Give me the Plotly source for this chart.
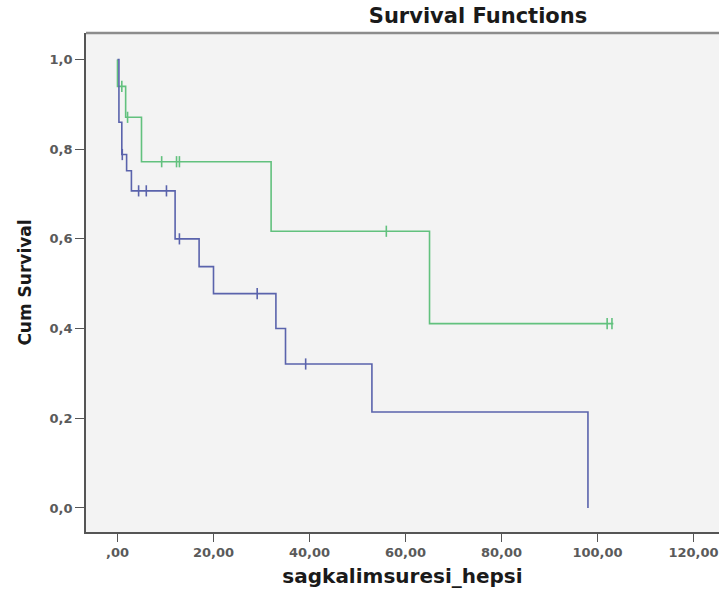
import plotly.graph_objects as go

# Kaplan-Meier step data (time, cumulative survival) for the two groups
green_time = [0, 0, 1.7, 5, 32, 65, 103.3]
green_surv = [1.0, 0.94, 0.871, 0.772, 0.617, 0.411, 0.411]
green_censor = [0.9, 2.1, 9.2, 12.3, 12.9, 56, 102, 103]

blue_time = [0, 0.3, 0.9, 1.9, 2.9, 12, 17, 20, 33, 35, 53, 98]
blue_surv = [1.0, 0.86, 0.788, 0.752, 0.707, 0.60, 0.538, 0.478, 0.40, 0.321, 0.214, 0.0]
blue_censor = [1.0, 4.4, 6.0, 10.2, 12.9, 29.1, 39.2]

x_ticks = [0, 20, 40, 60, 80, 100, 120]
x_labels = [",00", "20,00", "40,00", "60,00", "80,00", "100,00", "120,00"]
y_ticks = [0, 0.2, 0.4, 0.6, 0.8, 1.0]
y_labels = ["0,0", "0,2", "0,4", "0,6", "0,8", "1,0"]

GREEN = "#62C17E"
BLUE = "#5A63AC"


def step_value(times, surv, t):
    """Survival level of a right-continuous step curve at time t."""
    v = surv[0]
    for ti, si in zip(times, surv):
        if ti <= t:
            v = si
    return v


fig = go.Figure()

for times, surv, cens, color in [
    (green_time, green_surv, green_censor, GREEN),
    (blue_time, blue_surv, blue_censor, BLUE),
]:
    fig.add_trace(go.Scatter(
        x=times, y=surv, mode="lines", line_shape="hv",
        line=dict(color=color, width=1.6), hoverinfo="skip", showlegend=False,
    ))
    fig.add_trace(go.Scatter(
        x=cens, y=[step_value(times, surv, t) for t in cens], mode="markers",
        marker=dict(symbol="line-ns", size=8, line=dict(color=color, width=1.6)),
        hoverinfo="skip", showlegend=False,
    ))

tick_font = dict(family="DejaVu Sans", size=13, color="#5a5a5a", weight="bold")

fig.update_layout(
    width=719, height=590,
    margin=dict(l=86, r=0, t=33, b=58),
    paper_bgcolor="white",
    plot_bgcolor="#F3F3F3",
    title=dict(
        text="Survival Functions",
        x=478 / 719, xanchor="center", xref="container",
        y=1 - 16 / 590, yanchor="middle", yref="container",
        font=dict(family="DejaVu Sans", size=21, color="#1a1a1a", weight="bold"),
    ),
    xaxis=dict(
        range=[-6.56, 125.3], tickvals=x_ticks, ticktext=x_labels,
        showgrid=False, zeroline=False, showline=True, linecolor="#555555", linewidth=1.6,
        ticks="outside", ticklen=8, tickwidth=1.4, tickcolor="#555555",
        tickfont=tick_font,
        title=dict(text="sagkalimsuresi_hepsi", standoff=10,
                   font=dict(family="DejaVu Sans", size=20, color="#1a1a1a", weight="bold")),
    ),
    yaxis=dict(
        range=[-0.0536, 1.059], tickvals=y_ticks, ticktext=y_labels,
        showgrid=False, zeroline=False, showline=True, linecolor="#555555", linewidth=1.6,
        ticks="outside", ticklen=9, tickwidth=1.4, tickcolor="#555555",
        tickfont=tick_font,
        title=dict(text="Cum Survival", standoff=14,
                   font=dict(family="DejaVu Sans", size=17, color="#1a1a1a", weight="bold")),
    ),
)

# grey frame line along the top of the plot area
fig.add_shape(type="line", xref="paper", yref="paper", x0=0, x1=1, y0=1, y1=1,
              line=dict(color="#8C8C8C", width=2.5))

fig.write_html("out.html")
